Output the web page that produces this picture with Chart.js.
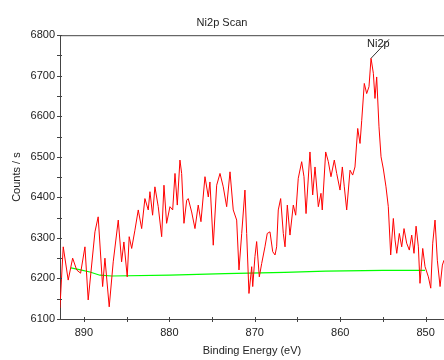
<!DOCTYPE html>
<html>
<head>
<meta charset="utf-8">
<title>Ni2p Scan</title>
<script src="https://cdn.jsdelivr.net/npm/chart.js@4.4.1/dist/chart.umd.min.js"></script>
<style>
  html, body { margin: 0; padding: 0; background: #fff; }
  #wrap { width: 444px; height: 360px; }
</style>
</head>
<body>
<div id="wrap"><canvas id="MyChart" width="444" height="360"></canvas></div>
<script>
const energies = [
  892.81, 892.42, 891.84, 891.32, 890.85, 890.39, 889.88, 889.50, 888.71, 888.33,
  887.81, 887.54, 887.04, 886.57, 885.98, 885.59, 885.32, 884.93, 884.70, 884.41,
  884.03, 883.64, 883.24, 882.86, 882.47, 882.27, 881.96, 881.69, 881.30, 880.90,
  880.63, 880.32, 879.93, 879.61, 879.34, 879.07, 878.76, 878.56, 878.29, 877.97,
  877.79, 877.39, 877.00, 876.62, 876.30, 875.83, 875.44, 875.25, 874.86, 874.46,
  874.07, 873.69, 873.29, 872.90, 872.52, 872.12, 871.85, 871.53, 871.15, 870.95,
  870.68, 870.36, 870.24, 869.98, 869.78, 869.47, 869.19, 868.81, 868.54, 868.22,
  867.90, 867.63, 867.44, 867.25, 866.97, 866.66, 866.46, 866.19, 865.88, 865.49,
  865.21, 864.91, 864.51, 864.24, 864.00, 863.54, 863.22, 862.95, 862.56, 862.25,
  862.10, 861.70, 861.39, 861.08, 860.69, 860.41, 860.02, 859.75, 859.52, 859.24,
  858.85, 858.54, 858.27, 857.95, 857.68, 857.48, 857.18, 856.90, 856.63, 856.39,
  856.12, 855.93, 855.73, 855.46, 855.22, 854.95, 854.64, 854.37, 854.09, 853.78,
  853.58, 853.38, 853.08, 852.80, 852.53, 852.22, 851.91, 851.63, 851.36, 851.12,
  850.85, 850.66, 850.34, 850.07, 849.68, 849.40, 849.17, 848.90, 848.63, 848.31,
  848.04, 847.85
];
// counts / s
const counts = [
  6127, 6278, 6196, 6250, 6221, 6213, 6278, 6147, 6315, 6352,
  6180, 6250, 6130, 6241, 6344, 6241, 6290, 6204, 6303, 6274,
  6319, 6369, 6323, 6397, 6369, 6414, 6356, 6426, 6377, 6303,
  6430, 6336, 6377, 6369, 6459, 6381, 6492, 6459, 6336, 6393,
  6397, 6364, 6323, 6381, 6340, 6451, 6401, 6438, 6282, 6430,
  6459, 6426, 6377, 6463, 6369, 6344, 6221, 6311, 6418, 6311,
  6163, 6229, 6180, 6254, 6291, 6204, 6237, 6278, 6311, 6315,
  6266, 6258, 6278, 6369, 6397, 6311, 6278, 6381, 6307, 6381,
  6356, 6447, 6488, 6451, 6360, 6512, 6406, 6475, 6377, 6410,
  6369, 6512, 6488, 6451, 6492, 6459, 6418, 6475, 6426, 6369,
  6467, 6455, 6475, 6570, 6533, 6590, 6681, 6656, 6673, 6743,
  6706, 6644, 6697, 6574, 6500, 6470, 6426, 6377, 6258, 6348,
  6295, 6262, 6311, 6278, 6323, 6287, 6270, 6307, 6262, 6329,
  6278, 6188, 6274, 6229, 6204, 6176, 6287, 6344, 6245, 6180,
  6233, 6245
];
// background line
const bgEnergies = [891.52, 890.40, 889.30, 888.13, 886.75, 879.93, 873.50, 866.50, 861.70, 855.00, 850.07];
const bgCounts   = [6226, 6221, 6216, 6208, 6206, 6208, 6212, 6215, 6218, 6220, 6220];

const peakLabel = 'Ni2p';
const xTickLabels = [850, 860, 870, 880, 890];
const yTickLabels = [6100, 6200, 6300, 6400, 6500, 6600, 6700, 6800];

const FONT = '"Liberation Sans", Arial, sans-serif';
const TXT = '#222';

const toPoints = (xs, ys) => xs.map((x, i) => ({ x: x, y: ys[i] }));

// axis frame, crossing tick marks and the peak label
const framePlugin = {
  id: 'frame',
  afterDraw(chart) {
    const ctx = chart.ctx;
    const a = chart.chartArea;
    const xs = chart.scales.x, ys = chart.scales.y;
    ctx.save();
    ctx.strokeStyle = '#444';
    ctx.lineWidth = 1;
    ctx.beginPath();
    ctx.moveTo(a.left, a.top + 0.5);
    ctx.lineTo(chart.width, a.top + 0.5);
    ctx.stroke();
    ctx.beginPath();
    for (let v = 850; v <= 890; v += 5) {
      const px = Math.round(xs.getPixelForValue(v)) + 0.5;
      ctx.moveTo(px, a.bottom - 2);
      ctx.lineTo(px, a.bottom + 3);
    }
    for (let v = 6100; v <= 6800; v += 50) {
      const py = Math.round(ys.getPixelForValue(v)) + 0.5;
      ctx.moveTo(a.left - 3, py);
      ctx.lineTo(a.left + 2, py);
    }
    ctx.stroke();

    // Ni2p label on the highest point
    let k = 0;
    counts.forEach((c, i) => { if (c > counts[k]) k = i; });
    const px = xs.getPixelForValue(energies[k]);
    const py = ys.getPixelForValue(counts[k]);
    ctx.strokeStyle = '#333';
    ctx.beginPath();
    ctx.moveTo(px, py);
    ctx.lineTo(px + 18, py - 19);
    ctx.stroke();
    ctx.fillStyle = TXT;
    ctx.font = '11px ' + FONT;
    ctx.textBaseline = 'alphabetic';
    ctx.fillText(peakLabel, px - 4, py - 11);
    ctx.restore();
  }
};

const ctx = document.getElementById('MyChart').getContext('2d');
const chart = new Chart(ctx, {
  type: 'line',
  data: {
    datasets: [{
      label: 'Ni2p',
      data: toPoints(energies, counts),
      borderColor: '#ff0000',
      borderWidth: 1,
      pointRadius: 0,
      tension: 0,
      fill: false
    }, {
      label: 'background',
      data: toPoints(bgEnergies, bgCounts),
      borderColor: '#00ff00',
      borderWidth: 1.2,
      pointRadius: 0,
      tension: 0,
      fill: false
    }]
  },
  options: {
    responsive: false,
    animation: false,
    devicePixelRatio: 1,
    layout: { padding: 0 },
    plugins: {
      legend: { display: false },
      tooltip: { enabled: false },
      title: {
        display: true,
        text: 'Ni2p Scan',
        color: TXT,
        font: { family: FONT, size: 11, weight: 'normal' },
        padding: { top: 16, bottom: 6 }
      }
    },
    scales: {
      x: {
        type: 'linear',
        reverse: true,
        min: 847.85,
        max: 892.8,
        afterFit: s => { s.height = 41; },
        grid: { display: true, drawOnChartArea: false, drawTicks: false },
        border: { display: true, color: '#444' },
        ticks: {
          stepSize: 5,
          includeBounds: false,
          autoSkip: false,
          maxRotation: 0,
          padding: 7,
          color: TXT,
          font: { family: FONT, size: 11 },
          callback: v => xTickLabels.includes(v) ? String(v) : ''
        },
        title: {
          display: true,
          text: 'Binding Energy (eV)',
          color: TXT,
          font: { family: FONT, size: 11 },
          padding: { top: 0, bottom: 2 }
        }
      },
      y: {
        min: 6100,
        max: 6800,
        afterFit: s => { s.width = 60; },
        grid: { display: true, drawOnChartArea: false, drawTicks: false },
        border: { display: true, color: '#444' },
        ticks: {
          stepSize: 50,
          autoSkip: false,
          padding: 5,
          color: TXT,
          font: { family: FONT, size: 11 },
          callback: v => yTickLabels.includes(v) ? String(v) : ''
        },
        title: {
          display: true,
          text: 'Counts / s',
          color: TXT,
          font: { family: FONT, size: 11 },
          padding: { top: 10, bottom: 0 }
        }
      }
    }
  },
  plugins: [framePlugin]
});
</script>
</body>
</html>
